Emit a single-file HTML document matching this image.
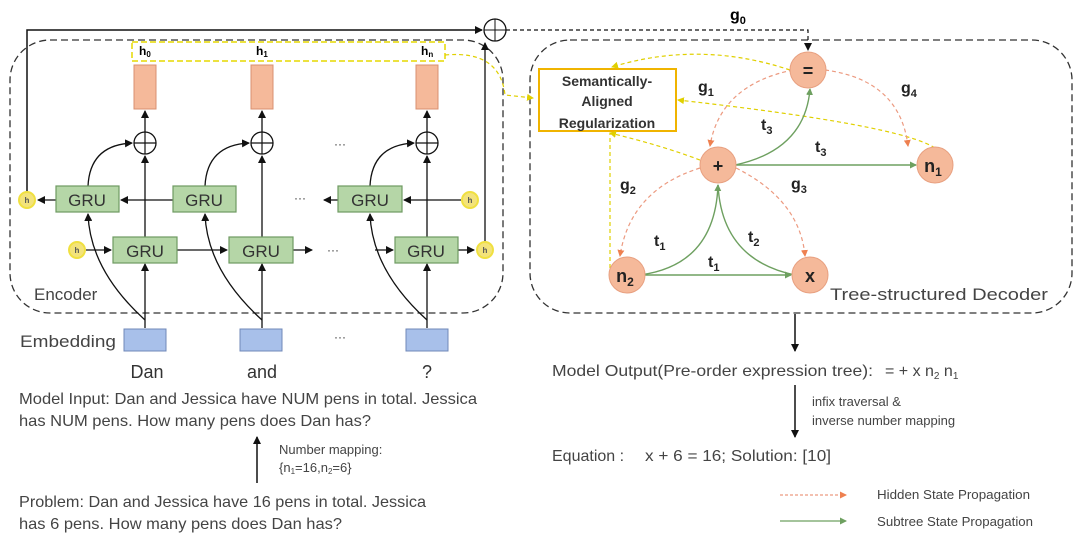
<!DOCTYPE html>
<html><head><meta charset="utf-8"><style>
html,body{margin:0;padding:0;background:#fff;}
svg{display:block;font-family:"Liberation Sans",sans-serif;}
</style></head><body>
<svg width="1080" height="555" viewBox="0 0 1080 555" xmlns="http://www.w3.org/2000/svg">
<defs>
<marker id="ab" markerWidth="8" markerHeight="8" refX="7" refY="4" orient="auto" markerUnits="userSpaceOnUse"><path d="M0,0 L8,4 L0,8 z" fill="#111"/></marker>
<marker id="ao" markerWidth="7" markerHeight="7" refX="6" refY="3.5" orient="auto" markerUnits="userSpaceOnUse"><path d="M0,0 L7,3.5 L0,7 z" fill="#ee8050"/></marker>
<marker id="ag" markerWidth="7" markerHeight="7" refX="6" refY="3.5" orient="auto" markerUnits="userSpaceOnUse"><path d="M0,0 L7,3.5 L0,7 z" fill="#6ea060"/></marker>
<marker id="ay" markerWidth="7" markerHeight="7" refX="6" refY="3.5" orient="auto" markerUnits="userSpaceOnUse"><path d="M0,0 L7,3.5 L0,7 z" fill="#e0d000"/></marker>
</defs>
<rect x="10" y="40" width="493" height="273" rx="40" fill="none" stroke="#333" stroke-width="1.3" stroke-dasharray="7,4"/>
<rect x="530" y="40" width="542" height="273" rx="40" fill="none" stroke="#333" stroke-width="1.3" stroke-dasharray="7,4"/>
<text x="34" y="300" font-size="17" fill="#444">Encoder</text>
<text x="830" y="300" font-size="17" fill="#444" textLength="218" lengthAdjust="spacingAndGlyphs">Tree-structured Decoder</text>
<polyline points="27,192 27,30 482,30" fill="none" stroke="#111" stroke-width="1.5" marker-end="url(#ab)"/>
<circle cx="495" cy="30" r="11" fill="#fff" stroke="#111" stroke-width="1.3"/>
<line x1="484" y1="30" x2="506" y2="30" stroke="#111"/><line x1="495" y1="19" x2="495" y2="41" stroke="#111"/>
<line x1="485" y1="242" x2="485" y2="43" stroke="#111" stroke-width="1.3" marker-end="url(#ab)"/>
<polyline points="506,30 808,30 808,50" fill="none" stroke="#111" stroke-width="1.2" stroke-dasharray="4,3" marker-end="url(#ab)"/>
<text x="730" y="20" font-size="16" font-weight="bold">g<tspan font-size="11" dy="4">0</tspan></text>
<rect x="132" y="42" width="313" height="19" fill="none" stroke="#e6d800" stroke-width="1.5" stroke-dasharray="6,3"/>
<text x="139" y="55" font-size="12" font-weight="bold">h<tspan font-size="8" dy="2">0</tspan></text>
<text x="256" y="55" font-size="12" font-weight="bold">h<tspan font-size="8" dy="2">1</tspan></text>
<text x="421" y="55" font-size="12" font-weight="bold">h<tspan font-size="8" dy="2">n</tspan></text>
<path d="M445,55 Q500,50 505,95 L533,98" fill="none" stroke="#e0d000" stroke-width="1.2" stroke-dasharray="4,3" marker-end="url(#ay)"/>
<g stroke="#111" stroke-width="1.3" fill="none">
<line x1="145" y1="328" x2="145" y2="264" marker-end="url(#ab)"/>
<line x1="145" y1="237" x2="145" y2="156" marker-end="url(#ab)"/>
<line x1="145" y1="132" x2="145" y2="111" marker-end="url(#ab)"/>
<path d="M145,320 Q90,270 88,214" marker-end="url(#ab)"/>
<path d="M88,186 Q90,145 132,143" marker-end="url(#ab)"/>
<line x1="262" y1="328" x2="262" y2="264" marker-end="url(#ab)"/>
<line x1="262" y1="237" x2="262" y2="156" marker-end="url(#ab)"/>
<line x1="262" y1="132" x2="262" y2="111" marker-end="url(#ab)"/>
<path d="M262,320 Q207,270 205,214" marker-end="url(#ab)"/>
<path d="M205,186 Q207,145 249,143" marker-end="url(#ab)"/>
<line x1="427" y1="328" x2="427" y2="264" marker-end="url(#ab)"/>
<line x1="427" y1="237" x2="427" y2="156" marker-end="url(#ab)"/>
<line x1="427" y1="132" x2="427" y2="111" marker-end="url(#ab)"/>
<path d="M427,320 Q372,270 370,214" marker-end="url(#ab)"/>
<path d="M370,186 Q372,145 414,143" marker-end="url(#ab)"/>
<line x1="56" y1="200" x2="38" y2="200" marker-end="url(#ab)"/>
<line x1="173" y1="200" x2="121" y2="200" marker-end="url(#ab)"/>
<line x1="338" y1="200" x2="324" y2="200" marker-end="url(#ab)"/>
<line x1="461" y1="200" x2="404" y2="200" marker-end="url(#ab)"/>
<line x1="86" y1="250" x2="111" y2="250" marker-end="url(#ab)"/>
<line x1="177" y1="250" x2="227" y2="250" marker-end="url(#ab)"/>
<line x1="293" y1="250" x2="312" y2="250" marker-end="url(#ab)"/>
<line x1="375" y1="250" x2="393" y2="250" marker-end="url(#ab)"/>
<line x1="458" y1="250" x2="474" y2="250" marker-end="url(#ab)"/>
</g>
<g fill="#f5b99a" stroke="#d99070" stroke-width="1">
<rect x="134" y="65" width="22" height="44"/><rect x="251" y="65" width="22" height="44"/><rect x="416" y="65" width="22" height="44"/>
</g>
<g fill="#fff" stroke="#111" stroke-width="1.3">
<circle cx="145" cy="143" r="11"/><circle cx="262" cy="143" r="11"/><circle cx="427" cy="143" r="11"/>
</g>
<g stroke="#111" stroke-width="1.2">
<line x1="134" y1="143" x2="156" y2="143"/><line x1="145" y1="132" x2="145" y2="154"/>
<line x1="251" y1="143" x2="273" y2="143"/><line x1="262" y1="132" x2="262" y2="154"/>
<line x1="416" y1="143" x2="438" y2="143"/><line x1="427" y1="132" x2="427" y2="154"/>
</g>
<g fill="#b5d6a7" stroke="#6e9a62" stroke-width="1.2">
<rect x="56" y="186" width="63" height="26"/><rect x="173" y="186" width="63" height="26"/><rect x="338" y="186" width="64" height="26"/>
<rect x="113" y="237" width="64" height="26"/><rect x="229" y="237" width="64" height="26"/><rect x="395" y="237" width="63" height="26"/>
</g>
<g font-size="17" fill="#333" text-anchor="middle">
<text x="87" y="206">GRU</text><text x="204" y="206">GRU</text><text x="370" y="206">GRU</text>
<text x="145" y="257">GRU</text><text x="261" y="257">GRU</text><text x="426" y="257">GRU</text>
</g>
<g fill="#333" font-size="12" text-anchor="middle">
<text x="340" y="148">···</text><text x="300" y="202">···</text><text x="333" y="254">···</text><text x="340" y="341">···</text>
</g>
<g fill="#f3e37a" stroke="#f0e040" stroke-width="2">
<circle cx="27" cy="200" r="8"/><circle cx="77" cy="250" r="8"/><circle cx="470" cy="200" r="8"/><circle cx="485" cy="250" r="8"/>
</g>
<g font-size="8" fill="#555" text-anchor="middle" font-weight="bold">
<text x="27" y="203">h</text><text x="77" y="253">h</text><text x="470" y="203">h</text><text x="485" y="253">h</text>
</g>
<text x="20" y="347" font-size="17" fill="#444" textLength="96" lengthAdjust="spacingAndGlyphs">Embedding</text>
<g fill="#a8c0ea" stroke="#7088b8" stroke-width="1">
<rect x="124" y="329" width="42" height="22"/><rect x="240" y="329" width="42" height="22"/><rect x="406" y="329" width="42" height="22"/>
</g>
<g font-size="18" fill="#333" text-anchor="middle"><text x="147" y="378">Dan</text><text x="262" y="378">and</text><text x="427" y="378">?</text></g>
<g font-size="16" fill="#444">
<text x="19" y="404" textLength="458" lengthAdjust="spacingAndGlyphs">Model Input: Dan and Jessica have NUM pens in total. Jessica</text>
<text x="19" y="426" textLength="352" lengthAdjust="spacingAndGlyphs">has NUM pens. How many pens does Dan has?</text>
<text x="19" y="507" textLength="407" lengthAdjust="spacingAndGlyphs">Problem: Dan and Jessica have 16 pens in total. Jessica</text>
<text x="19" y="529" textLength="323" lengthAdjust="spacingAndGlyphs">has 6 pens. How many pens does Dan has?</text>
</g>
<line x1="257" y1="483" x2="257" y2="437" stroke="#111" stroke-width="1.5" marker-end="url(#ab)"/>
<text x="279" y="454" font-size="13" fill="#444">Number mapping:</text>
<text x="279" y="472" font-size="13" fill="#444">{n<tspan font-size="8" dy="2">1</tspan><tspan dy="-2">=16,n</tspan><tspan font-size="8" dy="2">2</tspan><tspan dy="-2">=6}</tspan></text>
<rect x="539" y="69" width="137" height="62" fill="#fff" stroke="#f0b400" stroke-width="2"/>
<g font-size="14" font-weight="bold" fill="#333" text-anchor="middle">
<text x="607" y="86">Semantically-</text><text x="607" y="106">Aligned</text><text x="607" y="128">Regularization</text>
</g>
<g fill="none" stroke="#e0d000" stroke-width="1.2" stroke-dasharray="4,3">
<path d="M790,70 Q700,40 612,67" marker-end="url(#ay)"/>
<path d="M935,148 Q900,125 678,100" marker-end="url(#ay)"/>
<path d="M700,160 Q660,145 610,133" marker-end="url(#ay)"/>
<path d="M610,275 L610,133"/>
</g>
<g fill="none" stroke="#ec9a80" stroke-width="1.2" stroke-dasharray="4,3">
<path d="M793,70 Q720,85 710,146" marker-end="url(#ao)"/>
<path d="M825,70 Q900,80 908,146" marker-end="url(#ao)"/>
<path d="M700,168 Q630,190 620,256" marker-end="url(#ao)"/>
<path d="M736,168 Q800,200 805,256" marker-end="url(#ao)"/>
</g>
<g fill="none" stroke="#6ea060" stroke-width="1.4">
<path d="M640,275 Q715,265 718,185" marker-end="url(#ag)"/>
<path d="M795,275 Q722,260 718,185"/>
<line x1="645" y1="275" x2="791" y2="275" marker-end="url(#ag)"/>
<line x1="735" y1="165" x2="916" y2="165" marker-end="url(#ag)"/>
<path d="M735,165 Q805,150 810,89" marker-end="url(#ag)"/>
</g>
<g fill="#f5b99a" stroke="#e8a080" stroke-width="1">
<circle cx="808" cy="70" r="18"/><circle cx="718" cy="165" r="18"/><circle cx="935" cy="165" r="18"/><circle cx="627" cy="275" r="18"/><circle cx="810" cy="275" r="18"/>
</g>
<g font-size="18" font-weight="bold" fill="#222" text-anchor="middle">
<text x="808" y="77">=</text><text x="718" y="172">+</text><text x="933" y="172">n<tspan font-size="12" dy="4">1</tspan></text><text x="625" y="282">n<tspan font-size="12" dy="4">2</tspan></text><text x="810" y="282">x</text>
</g>
<g font-size="16" font-weight="bold" fill="#222">
<text x="698" y="92">g<tspan font-size="11" dy="4">1</tspan></text>
<text x="901" y="93">g<tspan font-size="11" dy="4">4</tspan></text>
<text x="620" y="190">g<tspan font-size="11" dy="4">2</tspan></text>
<text x="791" y="189">g<tspan font-size="11" dy="4">3</tspan></text>
<text x="761" y="130">t<tspan font-size="11" dy="4">3</tspan></text>
<text x="815" y="152">t<tspan font-size="11" dy="4">3</tspan></text>
<text x="654" y="246">t<tspan font-size="11" dy="4">1</tspan></text>
<text x="708" y="267">t<tspan font-size="11" dy="4">1</tspan></text>
<text x="748" y="242">t<tspan font-size="11" dy="4">2</tspan></text>
</g>
<line x1="795" y1="314" x2="795" y2="351" stroke="#111" stroke-width="1.5" marker-end="url(#ab)"/>
<text x="552" y="376" font-size="16" fill="#444" textLength="321" lengthAdjust="spacingAndGlyphs">Model Output(Pre-order expression tree):</text>
<text x="885" y="376" font-size="16" fill="#444">= + x n<tspan font-size="10" dy="3">2</tspan><tspan dy="-3"> n</tspan><tspan font-size="10" dy="3">1</tspan></text>
<line x1="795" y1="385" x2="795" y2="437" stroke="#111" stroke-width="1.5" marker-end="url(#ab)"/>
<text x="812" y="406" font-size="13" fill="#444">infix traversal  &amp;</text>
<text x="812" y="425" font-size="13" fill="#444">inverse number mapping</text>
<text x="552" y="461" font-size="16" fill="#444">Equation :</text>
<text x="645" y="461" font-size="16" fill="#444" textLength="186" lengthAdjust="spacingAndGlyphs">x + 6 = 16; Solution: [10]</text>
<line x1="780" y1="495" x2="846" y2="495" stroke="#ec9a80" stroke-width="1.2" stroke-dasharray="3,2" marker-end="url(#ao)"/>
<line x1="780" y1="521" x2="846" y2="521" stroke="#6ea060" stroke-width="1.2" marker-end="url(#ag)"/>
<text x="877" y="499" font-size="13" fill="#444" textLength="153" lengthAdjust="spacingAndGlyphs">Hidden State Propagation</text>
<text x="877" y="526" font-size="13" fill="#444" textLength="156" lengthAdjust="spacingAndGlyphs">Subtree State Propagation</text>
</svg>
</body></html>
